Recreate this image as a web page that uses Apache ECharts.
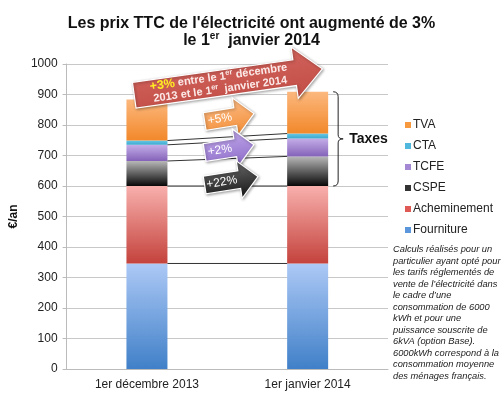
<!DOCTYPE html>
<html><head><meta charset="utf-8">
<script src="https://cdn.jsdelivr.net/npm/echarts@6/dist/echarts.min.js"></script>
<style>html,body{margin:0;padding:0;background:#fff}#c{width:503px;height:393px}</style>
</head><body><div id="c"></div>
<script>
// ---- data ----
const categories = ['1er décembre 2013', '1er janvier 2014'];
const fourniture = [346, 346];
const acheminement = [254, 254];
const cspe = [82, 97];
const tcfe = [53, 59];
const cta = [14, 16];
const tva = [135, 137];
const yMin = 0, yMax = 1000, yStep = 100;
const legendOrder = ['TVA', 'CTA', 'TCFE', 'CSPE', 'Acheminement', 'Fourniture'];
const arrowLabels = ['+5%', '+2%', '+22%'];
const noteLines = [
  'Calculs réalisés pour un',
  'particulier ayant opté pour',
  'les tarifs réglementés de',
  'vente de l\u2019électricité dans',
  'le cadre d\u2019une',
  'consommation de 6000',
  'kWh et pour une',
  'puissance souscrite de',
  '6kVA (option Base).',
  '6000kWh correspond à la',
  'consommation moyenne',
  'des ménages français.'
];

const FONT = '"Liberation Sans", Arial, sans-serif';
const G = (a, b) => new echarts.graphic.LinearGradient(0, 0, 0, 1, [{offset: 0, color: a}, {offset: 1, color: b}]);

const stackDefs = [
  {name: 'Fourniture', data: fourniture, grad: ['#adc9f6', '#4080c8'], legend: '#5b95dc'},
  {name: 'Acheminement', data: acheminement, grad: ['#f8b0ad', '#c4423c'], legend: '#e05a55'},
  {name: 'CSPE', data: cspe, grad: ['#b8b8b8', '#080808'], legend: '#333333'},
  {name: 'TCFE', data: tcfe, grad: ['#c4aee8', '#8462b8'], legend: '#a588d4'},
  {name: 'CTA', data: cta, grad: ['#66c8e6', '#3ea8cf'], legend: '#4fb8dc'},
  {name: 'TVA', data: tva, grad: ['#fcb87e', '#f2882a'], legend: '#f7993f'}
];

const chart = echarts.init(document.getElementById('c'), null, {renderer: 'canvas'});

const series = stackDefs.map(d => ({
  name: d.name, type: 'bar', stack: 'total', barWidth: 41,
  data: d.data,
  itemStyle: {color: G(d.grad[0], d.grad[1])},
  emphasis: {disabled: true}
}));

chart.setOption({
  animation: false,
  textStyle: {fontFamily: FONT},
  title: {
    text: 'Les prix TTC de l\'électricité ont augmenté de 3%\nle 1{s|er}  janvier 2014',
    left: 'center', top: 10,
    textStyle: {
      fontFamily: FONT, fontSize: 16, fontWeight: 'bold', color: '#111', lineHeight: 17,
      rich: {s: {fontFamily: FONT, fontSize: 10, fontWeight: 'bold', color: '#111', padding: [0, 0, 8, 0]}}
    }
  },
  grid: {left: 66, right: 115, top: 64, bottom: 24, containLabel: false},
  legend: {
    orient: 'vertical', left: 400, top: 114, itemGap: 9,
    icon: 'rect', itemWidth: 6, itemHeight: 6,
    textStyle: {fontFamily: FONT, fontSize: 12, color: '#222', padding: [0, 0, 0, -3]},
    data: legendOrder.map(n => ({name: n, itemStyle: {color: stackDefs.find(d => d.name === n).legend}})),
    selectedMode: false
  },
  xAxis: {
    type: 'category', data: categories,
    axisLine: {lineStyle: {color: '#bbbbbb'}},
    axisTick: {show: false},
    axisLabel: {fontFamily: FONT, fontSize: 12, color: '#222', margin: 10}
  },
  yAxis: {
    type: 'value', min: yMin, max: yMax, interval: yStep,
    name: '€/an', nameLocation: 'middle', nameGap: 40,
    nameTextStyle: {fontFamily: FONT, fontSize: 12, fontWeight: 'bold', color: '#111'},
    axisLine: {show: true, lineStyle: {color: '#bbbbbb'}},
    axisTick: {show: true, length: 4, lineStyle: {color: '#bbbbbb'}},
    axisLabel: {fontFamily: FONT, fontSize: 12, color: '#222', margin: 9, formatter: v => String(v)},
    splitLine: {lineStyle: {color: '#c8c8c8'}}
  },
  series: series
});

// ---- annotations computed from data via the chart's scales ----
const px = (ci, v) => chart.convertToPixel({xAxisIndex: 0, yAxisIndex: 0}, [ci, v]);
const halfBar = 20.5;
const cum = [0, 1].map(i => {
  let s = 0; return stackDefs.map(d => (s += d.data[i]));
});
const graphics = [];
// connecting lines between stack boundaries (all but the top)
for (let k = 0; k < stackDefs.length - 1; k++) {
  const a = px(0, cum[0][k]), b = px(1, cum[1][k]);
  graphics.push({type: 'line', z: 5, shape: {x1: a[0] + halfBar, y1: a[1], x2: b[0] - halfBar, y2: b[1]},
    style: {stroke: '#333', lineWidth: 1}});
}
// brace around taxes on second bar
const taxTop = px(1, cum[1][stackDefs.length - 1])[1];
const taxBot = px(1, cum[1][1])[1];
const bx = px(1, 0)[0] + halfBar + 5;
const ym = (taxTop + taxBot) / 2;
const braceStyle = {stroke: '#222', lineWidth: 1, fill: null};
const bz = (x1, y1, cx, cy, x2, y2) => ({type: 'bezierCurve', z: 5, shape: {x1, y1, x2, y2, cpx1: cx, cpy1: cy}, style: braceStyle});
graphics.push(bz(bx, taxTop, bx + 5, taxTop, bx + 5, taxTop + 5));
graphics.push({type: 'line', z: 5, shape: {x1: bx + 5, y1: taxTop + 5, x2: bx + 5, y2: ym - 4}, style: braceStyle});
graphics.push(bz(bx + 5, ym - 4, bx + 5, ym, bx + 10, ym));
graphics.push(bz(bx + 10, ym, bx + 5, ym, bx + 5, ym + 4));
graphics.push({type: 'line', z: 5, shape: {x1: bx + 5, y1: ym + 4, x2: bx + 5, y2: taxBot - 5}, style: braceStyle});
graphics.push(bz(bx + 5, taxBot - 5, bx + 5, taxBot, bx, taxBot));
graphics.push({type: 'text', z: 6, x: bx + 16, y: ym, style: {text: 'Taxes', fontFamily: FONT, fontSize: 14, fontWeight: 'bold', fill: '#111', verticalAlign: 'middle'}});

function arrowPts(L, bh, hl, hh) {
  const h = L / 2;
  return [[-h, -bh / 2], [h - hl, -bh / 2], [h - hl, -hh / 2], [h, 0], [h - hl, hh / 2], [h - hl, bh / 2], [-h, bh / 2]];
}
function arrow(cx, cy, angDeg, L, bh, hl, hh, grad, textObj, textShift) {
  return {
    type: 'group', x: cx, y: cy, rotation: angDeg * Math.PI / 180, z: 20,
    children: [
      {type: 'polygon', z: 20, shape: {points: arrowPts(L, bh, hl, hh)},
        style: {fill: G(grad[0], grad[1]), stroke: '#ffffff', lineWidth: 1.2,
          shadowBlur: 3, shadowColor: 'rgba(0,0,0,0.35)', shadowOffsetX: 1, shadowOffsetY: 1}},
      Object.assign({type: 'text', z: 21, x: -hl / 2 + (textShift || 0), y: 0}, textObj)
    ]
  };
}
// midpoint between the two bars
const midX = (px(0, 0)[0] + px(1, 0)[0]) / 2;
// big red arrow
graphics.push(arrow(midX + 1, 82, 8, 190, 26, 28, 52, ['#d0625b', '#c24e47'], {
  style: {text: '{y|+3%} entre le 1{s|er} décembre\n2013 et le 1{s|er}  janvier 2014',
    fontFamily: FONT, fontSize: 11, fontWeight: 'bold', fill: '#fbe9e7', align: 'center', verticalAlign: 'middle', lineHeight: 12.5,
    rich: {
      y: {fontFamily: FONT, fontSize: 12.5, fontWeight: 'bold', fill: '#ffee22'},
      s: {fontFamily: FONT, fontSize: 7.5, fontWeight: 'bold', fill: '#fbe9e7', padding: [0, 0, 6, 0]}
    }}
}, 5));
const smallDefs = [
  {val: (cum[0][5] + cum[0][4]) / 2 + 8, grad: ['#fcbb85', '#f28d35'], L: 50},
  {val: (cum[0][3] + cum[0][2]) / 2 + 14, grad: ['#c0a8ea', '#8d6bc8'], L: 50},
  {val: (cum[0][2] + cum[0][1]) / 2 - 24, grad: ['#6a6a6a', '#151515'], L: 54}
];
smallDefs.forEach((d, i) => {
  const y = px(0, d.val)[1];
  graphics.push(arrow(midX + 2 + (d.L - 50) / 2, y, 9, d.L, 18, 19, 38, d.grad, {
    style: {text: arrowLabels[i], fontFamily: FONT, fontSize: 12, fill: '#ffffff', align: 'center', verticalAlign: 'middle'}
  }));
});
// note
graphics.push({type: 'text', x: 393, y: 244, z: 6, style: {
  text: noteLines.join('\n'), fontFamily: FONT, fontSize: 9.3, fontStyle: 'italic', fill: '#222', lineHeight: 11.5
}});
chart.setOption({graphic: graphics});
</script></body></html>
